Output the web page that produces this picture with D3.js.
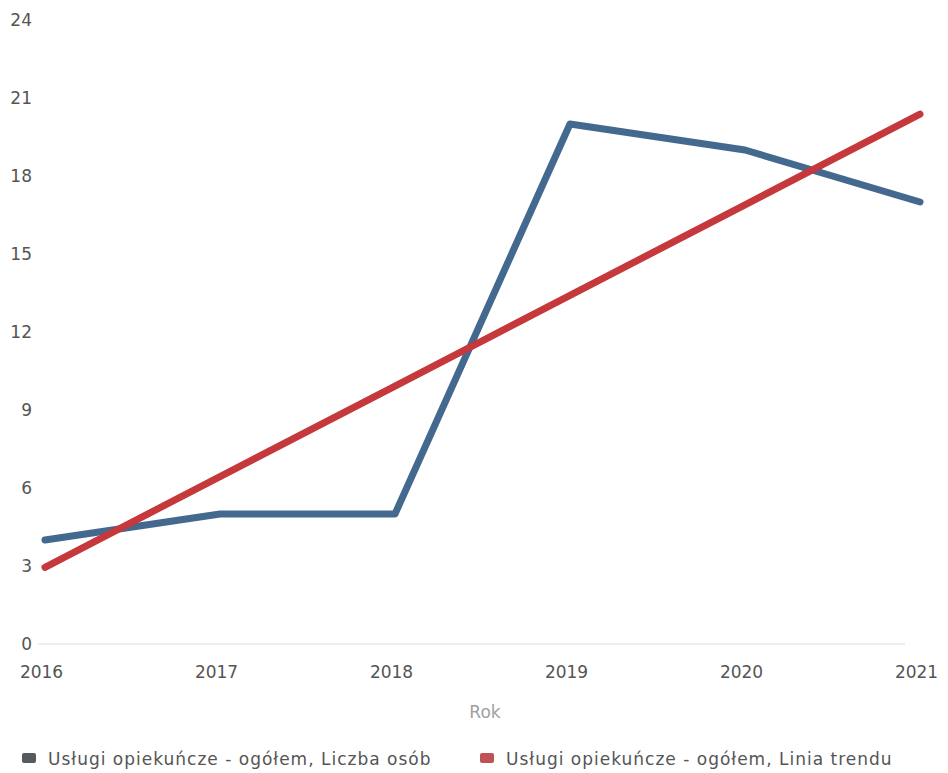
<!DOCTYPE html>
<html><head><meta charset="utf-8">
<script src="https://cdn.jsdelivr.net/npm/d3@7"></script>
<style>body{margin:0;background:#fff}svg{display:block}</style>
</head><body>
<svg id="c" width="948" height="773"></svg>
<script>
const years = ["2016","2017","2018","2019","2020","2021"];
const liczbaOsob = [4, 5, 5, 20, 19, 17];
const liniaTrendu = [2.95, 6.44, 9.92, 13.41, 16.89, 20.38];
const yTicks = [0, 3, 6, 9, 12, 15, 18, 21, 24];
const seriesNames = ["Usługi opiekuńcze - ogółem, Liczba osób", "Usługi opiekuńcze - ogółem, Linia trendu"];
const colors = ["#44698f", "#c5383c"];
const legendColors = ["#555a5f", "#c05256"];

const svg = d3.select("#c");
const font = "'DejaVu Sans', sans-serif";
const x = d3.scalePoint().domain(years).range([45, 920]);
const y = d3.scaleLinear().domain([0, 24]).range([644, 20]);

// baseline
svg.append("line").attr("x1", 38).attr("x2", 905).attr("y1", y(0)).attr("y2", y(0))
  .attr("stroke", "#eeeeee").attr("stroke-width", 2);

// y axis labels
const yAxis = d3.axisLeft(y).tickValues(yTicks).tickSize(0).tickPadding(0);
const gy = svg.append("g").attr("transform", "translate(32,0)").call(yAxis);
gy.select(".domain").remove();
gy.selectAll("text").attr("font-family", font).attr("font-size", 17).attr("fill", "#555");

// x axis labels
const xAxis = d3.axisBottom(x).tickSize(0).tickPadding(0);
const gx = svg.append("g").attr("transform", "translate(-4,666)").call(xAxis);
gx.select(".domain").remove();
gx.selectAll("text").attr("font-family", font).attr("font-size", 17).attr("fill", "#555");

svg.append("text").attr("x", 485).attr("y", 718).attr("text-anchor", "middle")
  .attr("font-family", font).attr("font-size", 17).attr("fill", "#a0a0a0").text("Rok");

const line = d3.line().x((d, i) => x(years[i])).y(d => y(d));
[liczbaOsob, liniaTrendu].forEach((s, k) => {
  svg.append("path").datum(s).attr("d", line).attr("fill", "none")
    .attr("stroke", colors[k]).attr("stroke-width", 7)
    .attr("stroke-linejoin", "round").attr("stroke-linecap", "round");
});

// legend
const lx = [22, 480];
seriesNames.forEach((n, k) => {
  svg.append("rect").attr("x", lx[k]).attr("y", 753).attr("width", 14).attr("height", 10)
    .attr("rx", 2).attr("fill", legendColors[k]);
  svg.append("text").attr("x", lx[k] + 26).attr("y", 765)
    .attr("font-family", font).attr("font-size", 17).attr("letter-spacing", 1)
    .attr("fill", "#555").text(n);
});
</script>
</body></html>
